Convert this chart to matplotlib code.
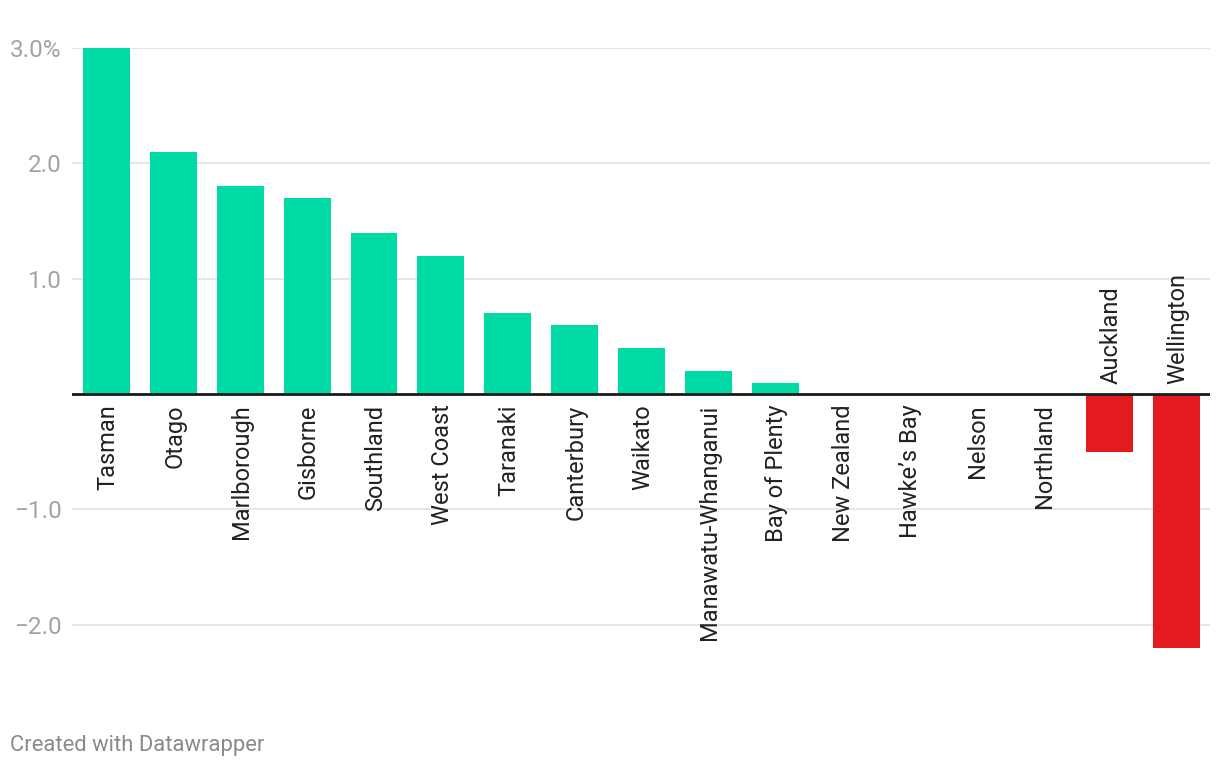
import numpy as np
import matplotlib.pyplot as plt

plt.rcParams['font.family'] = ['Roboto', 'DejaVu Sans']

regions = ["Tasman", "Otago", "Marlborough", "Gisborne", "Southland", "West Coast",
           "Taranaki", "Canterbury", "Waikato", "Manawatu-Whanganui", "Bay of Plenty",
           "New Zealand", "Hawke\u2019s Bay", "Nelson", "Northland", "Auckland", "Wellington"]
change = [3.0, 2.1, 1.8, 1.7, 1.4, 1.2, 0.7, 0.6, 0.4, 0.2, 0.1,
          0.0, 0.0, 0.0, 0.0, -0.5, -2.2]
yticks = [-2.0, -1.0, 1.0, 2.0, 3.0]
yticklabels = ["\u22122.0", "\u22121.0", "1.0", "2.0", "3.0%"]

GREEN = "#00dba6"
RED = "#e31b1e"

fig = plt.figure(figsize=(12.2, 7.68), dpi=100)
ax = fig.add_axes([72/1220, 1 - 659.4/768, (1210 - 72)/1220, (659.4 - 48)/768])

x = np.arange(len(regions))
colors = [GREEN if v >= 0 else RED for v in change]
ax.bar(x, change, width=0.70, color=colors, zorder=2)

ax.set_xlim(-0.516, 16.5)
ax.set_ylim(-2.3, 3.0)

for t in yticks:
    ax.axhline(t, color="#e2e2e2", lw=1.2, zorder=1)
ax.axhline(0, color="#1a1a1a", lw=2, zorder=3)

ax.set_yticks(yticks)
ax.set_yticklabels(yticklabels, fontsize=17.5, color="#a3a3a3")
ax.tick_params(axis="y", length=0, pad=7.5)
ax.set_xticks([])
for s in ax.spines.values():
    s.set_visible(False)

# category labels: below zero line for positive, above for negative
for xi, name, v in zip(x, regions, change):
    if v < 0:
        ax.annotate(name, (xi, 0), xytext=(1, 7.5), textcoords="offset points",
                    rotation=90, ha="center", va="bottom", fontsize=17,
                    color="#222222", zorder=4)
    else:
        ax.annotate(name, (xi, 0), xytext=(1, -7.5), textcoords="offset points",
                    rotation=90, ha="center", va="top", fontsize=17,
                    color="#222222", zorder=4)

fig.text(10/1220, 1 - 745/768, "Created with Datawrapper", fontsize=15.8,
         color="#8a8a8a", ha="left", va="center")

fig.savefig("out.png", dpi=100, facecolor="white")
